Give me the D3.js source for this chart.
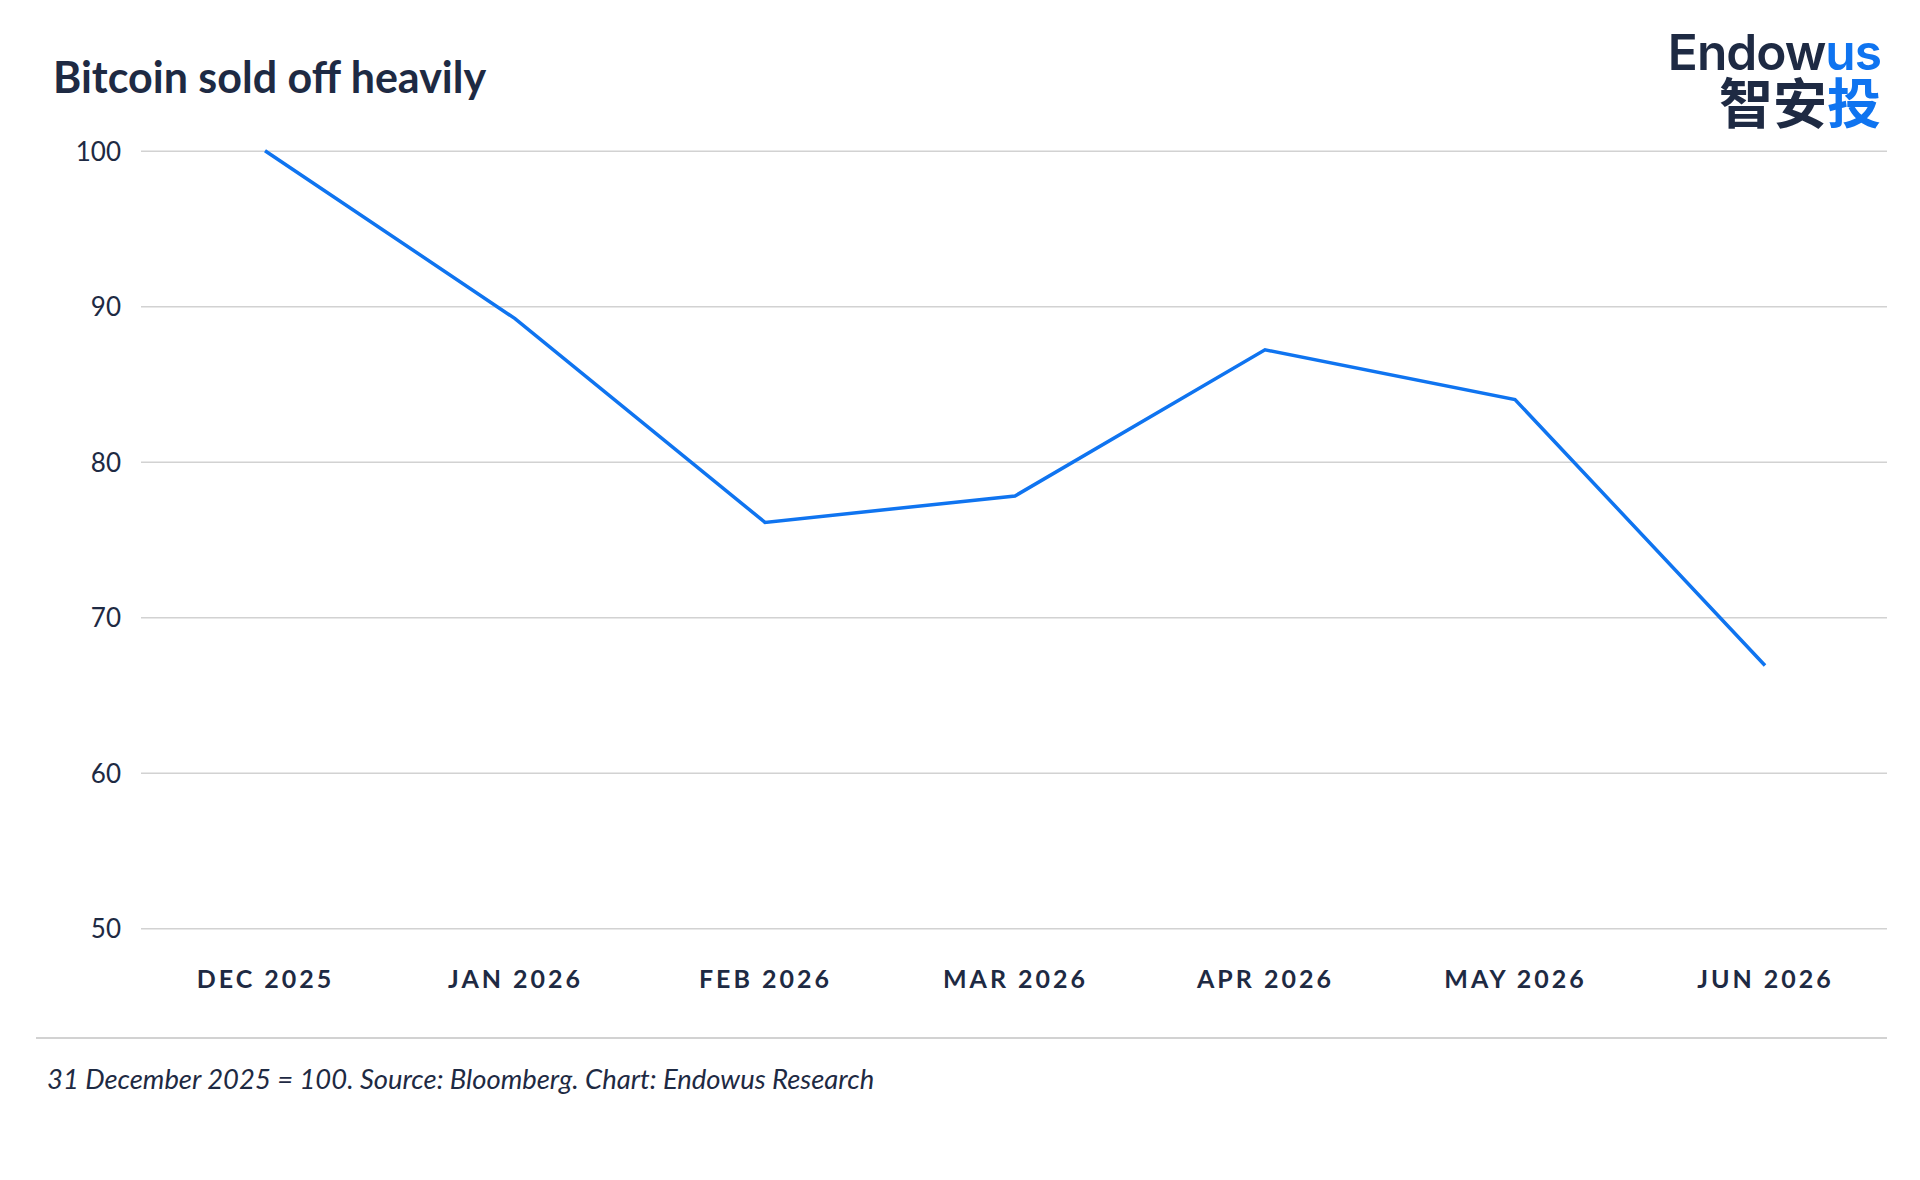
<!DOCTYPE html>
<html>
<head>
<meta charset="utf-8">
<script src="https://d3js.org/d3.v7.min.js"></script>
<style>
body { margin: 0; background: #fff; }
text { font-family: Lato, "Noto Sans", sans-serif; fill: #1e2a43; }
</style>
</head>
<body>
<div id="chart"></div>
<script>
// data, 31 Dec 2025 = 100
var months = ["DEC 2025", "JAN 2026", "FEB 2026", "MAR 2026", "APR 2026", "MAY 2026", "JUN 2026"];
var values = [100, 89.2, 76.1, 77.8, 87.2, 84.0, 66.9];
var yTicks = [50, 60, 70, 80, 90, 100];

var W = 1920, H = 1180;
var navy = "#1e2a43", blue = "#0f74f0";

var svg = d3.select("#chart").append("svg")
    .attr("width", W)
    .attr("height", H);

// scales
var x = d3.scalePoint()
    .domain(months)
    .range([265, 1765]);

var y = d3.scaleLinear()
    .domain([50, 100])
    .range([928.3, 150.7]);

// gridlines + y labels
var gridLeft = 141, gridRight = 1887;
var yAxis = svg.append("g")
    .attr("transform", "translate(" + gridLeft + ",0)")
    .call(d3.axisLeft(y).tickValues(yTicks).tickSize(-(gridRight - gridLeft)).tickPadding(20));
yAxis.select(".domain").remove();
yAxis.selectAll("line").attr("stroke", "#d2d2d2").attr("stroke-width", 1.6);
yAxis.selectAll("text")
    .attr("dy", "0.36em")
    .style("font-family", "Lato, sans-serif")
    .style("font-size", "26px")
    .attr("fill", navy);

// x labels
var xAxis = svg.append("g")
    .attr("transform", "translate(0," + y(50) + ")")
    .call(d3.axisBottom(x).tickSize(0).tickPadding(42));
xAxis.select(".domain").remove();
xAxis.selectAll("text")
    .style("font-family", "Lato, sans-serif")
    .style("font-size", "25px")
    .style("font-weight", "700")
    .style("letter-spacing", "3px")
    .attr("fill", navy);

// the line
svg.append("path")
    .datum(values)
    .attr("fill", "none")
    .attr("stroke", blue)
    .attr("stroke-width", 3.5)
    .attr("stroke-linejoin", "miter")
    .attr("d", d3.line()
        .x(function(d, i) { return x(months[i]); })
        .y(function(d) { return y(d); }));

// title
svg.append("text")
    .attr("x", 53)
    .attr("y", 93)
    .style("font-size", "43px")
    .style("font-weight", "700")
    .text("Bitcoin sold off heavily");

// logo - two-colour words, right aligned, pieces placed side by side
function twoTone(a, b, yPos, family, size, weight, spacing, targetW) {
  var right = 1881;
  var tb = svg.append("text")
      .attr("y", yPos).attr("text-anchor", "end")
      .style("font-family", family).style("font-size", size + "px")
      .style("font-weight", weight).style("letter-spacing", spacing + "px")
      .style("fill", blue).text(b);
  var ta = svg.append("text")
      .attr("y", yPos).attr("text-anchor", "end")
      .style("font-family", family).style("font-size", size + "px")
      .style("font-weight", weight).style("letter-spacing", spacing + "px")
      .style("fill", navy).text(a);
  if (targetW) {
    var total = ta.node().getComputedTextLength() + tb.node().getComputedTextLength();
    size = size * targetW / total;
    ta.style("font-size", size + "px");
    tb.style("font-size", size + "px");
  }
  var wb = tb.node().getComputedTextLength();
  tb.attr("x", right);
  ta.attr("x", right - wb);
}
twoTone("Endow", "us", 70, "Inter, Lato, sans-serif", 56, 600, -1, 214);
twoTone("智安", "投", 124, "'Noto Sans CJK SC', sans-serif", 54, 700, 0, null);

// separator + footnote
svg.append("line")
    .attr("x1", 36).attr("x2", gridRight)
    .attr("y1", 1038).attr("y2", 1038)
    .attr("stroke", "#d2d2d2")
    .attr("stroke-width", 2);

svg.append("text")
    .attr("x", 47)
    .attr("y", 1089)
    .style("font-size", "27.4px")
    .style("font-style", "italic")
    .text("31 December 2025 = 100. Source: Bloomberg. Chart: Endowus Research");
</script>
</body>
</html>
